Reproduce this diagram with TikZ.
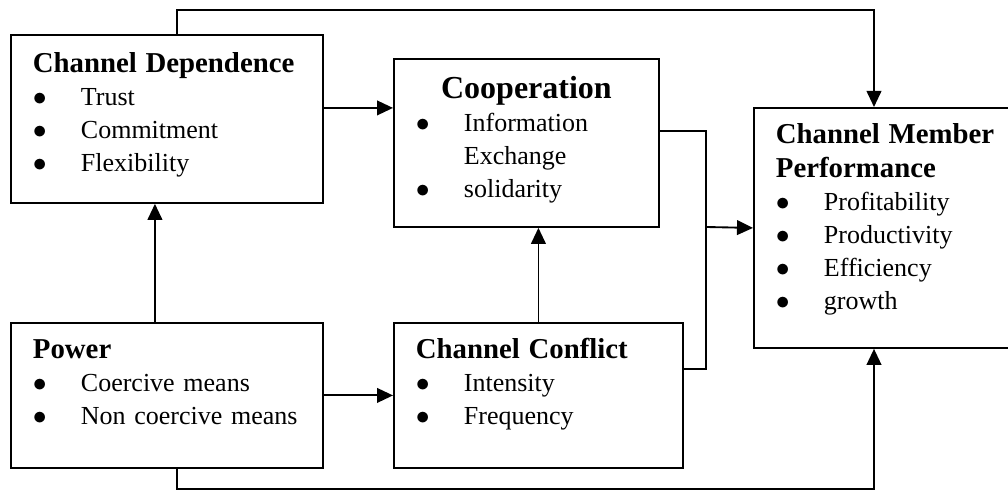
\documentclass[tikz,border=0pt]{standalone}
\usepackage{fontspec}
\setmainfont{Liberation Serif}
\usetikzlibrary{arrows.meta}

\newcommand{\hd}[1]{{\fontsize{21.6pt}{25pt}\selectfont\bfseries #1\par}}
\newcommand{\itm}[1]{\par\noindent\makebox[36pt][l]{$\bullet$}#1}
\newcommand{\cnt}[1]{\par\noindent\hspace*{36pt}#1}

\begin{document}
\begin{tikzpicture}[x=0.75pt,y=-0.75pt,
   box/.style={rectangle,draw,line width=1.4pt,anchor=north west,
     inner xsep=16.5pt,inner ysep=0pt,align=left,
     font={\fontsize{19.5pt}{24.75pt}\selectfont}},
   wire/.style={line width=1.4pt},
   arr/.style={wire,-{Triangle[length=12pt,width=11pt]}}
   ]
  \useasboundingbox (0,0) rectangle (1008,491);

  % -- left column
  \node[box,text width=201pt,text height=28.5pt,text depth=97.5pt] at (10,34) (dep)
    {\hd{Channel Dependence}\itm{Trust}\itm{Commitment}\itm{Flexibility}};
  \node[box,text width=201pt,text height=27pt,text depth=81.75pt] at (10,322) (pow)
    {\hd{Power}\itm{Coercive means}\itm{Non coercive means}};

  % -- middle column
  \node[box,text width=165.75pt,text height=30pt,text depth=96pt] at (393,58) (coop)
    {{\fontsize{24pt}{25.5pt}\selectfont\bfseries\centering Cooperation\par}%
     \itm{Information}\cnt{Exchange}\itm{solidarity}};
  \node[box,text width=183.75pt,text height=27pt,text depth=81.75pt] at (393,322) (conf)
    {\hd{Channel Conflict}\itm{Intensity}\itm{Frequency}};

  % -- right column
  \node[box,text width=190pt,text height=27pt,text depth=153pt] at (753,107) (cmp)
    {\hd{Channel Member\\Performance}\itm{Profitability}\itm{Productivity}\itm{Efficiency}\itm{growth}};

  \coordinate (tl) at (177,10);
  \coordinate (br) at (874,489);
  \coordinate (mj) at (706,227);

  % -- arrows
  \draw[arr] ([yshift=8.25pt]dep.east) -- ([yshift=8.25pt]dep.east -| coop.west);
  \draw[arr] (pow.east) -- (pow.east -| conf.west);
  \draw[arr] ([xshift=-9pt]pow.north) -- ([xshift=-9pt]pow.north |- dep.south);
  \draw[arr] (conf.north) -- (conf.north |- coop.south);
  \draw[wire] ([yshift=9pt]coop.east) -| (mj);
  \draw[wire] ([yshift=19.5pt]conf.east) -| (mj);
  \draw[arr] (mj) -- (cmp.west);
  \draw[arr] (tl |- dep.north) -- (tl) -| (cmp.north -| br);
  \draw[arr] (tl |- pow.south) -- (tl |- br) -| (cmp.south -| br);

\end{tikzpicture}
\end{document}
